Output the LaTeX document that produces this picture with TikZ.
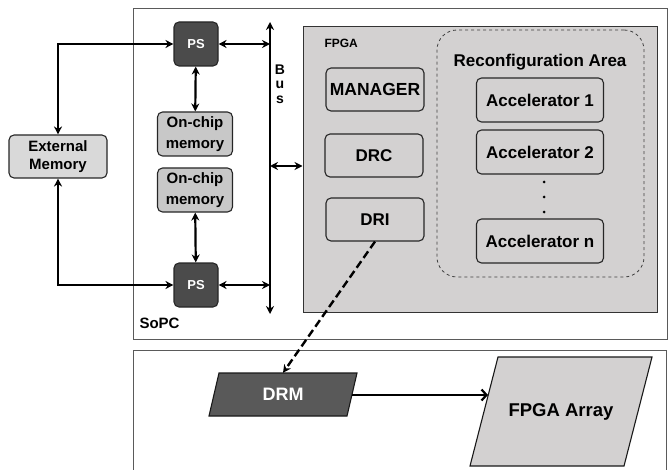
\documentclass[tikz,border=0pt]{standalone}
\usepackage{fontspec}
\setmainfont{Liberation Sans}
\usetikzlibrary{arrows.meta}
\definecolor{psgray}{HTML}{4B4B4B}
\definecolor{drmgray}{HTML}{595959}
\definecolor{memgray}{HTML}{C8C8C8}
\definecolor{extgray}{HTML}{D9D9D9}
\definecolor{fpgagray}{HTML}{D3D1D1}
\definecolor{framegray}{HTML}{5A5A5A}
\begin{document}
\begin{tikzpicture}[x=1pt,y=-1pt,
	fsz/.style={font=\fontsize{#1}{20}\selectfont\bfseries},
	blk/.style={draw=black!85,line width=1.1pt,rounded corners=5pt,align=center,inner sep=0pt},
	psbox/.style={blk,fill=psgray,text=white,minimum width=44pt,minimum height=44pt,fsz=13},
	membox/.style={blk,fill=memgray,minimum width=75pt,minimum height=44pt,font=\fontsize{15}{20.5}\selectfont\bfseries},
	extbox/.style={blk,fill=extgray,minimum width=98pt,minimum height=43pt,font=\fontsize{15}{18.5}\selectfont\bfseries},
	unitbox/.style={blk,fill=fpgagray,minimum width=98pt,minimum height=43pt,fsz=17},
	accbox/.style={blk,fill=fpgagray,minimum width=127pt,minimum height=44pt,fsz=17},
	para/.style={draw=black!90,line width=1.1pt},
	dbl/.style={{Stealth[length=8pt,width=8pt]}-{Stealth[length=8pt,width=8pt]},line width=2.2pt}
	]
	\useasboundingbox (0,0) rectangle (668,470);
	\node[draw=framegray,line width=1pt,minimum width=534pt,minimum height=330pt,inner sep=0pt] (sopc) at (400,174) {};
	\node[anchor=west,fsz=15] (sopclbl) at (136,323) {SoPC};
	\draw[framegray,line width=1pt] (133,471) |- (666,350) -- (666,471);

	\node[draw=black!80,line width=1pt,fill=fpgagray,minimum width=354pt,minimum height=285pt,inner sep=0pt] (fpga) at (480,169.5) {};
	\node[anchor=west,fsz=12] (fpgalbl) at (321,43) {FPGA};
	\node[draw=black!75,line width=0.8pt,dashed,rounded corners=20pt,minimum width=207pt,minimum height=247pt,inner sep=0pt] (reconf) at (540.5,153.5) {};
	\node[fsz=17] (reconflbl) at (540,62) {Reconfiguration Area};

	\node[unitbox,fsz=17.5] (mgr) at (375,89.5) {MANAGER};
	\node[unitbox] (drc) at (374,155.5) {DRC};
	\node[unitbox] (dri) at (375,219.5) {DRI};

	\node[accbox] (acc1) at (540,100) {Accelerator 1};
	\node[accbox] (acc2) at (540,152) {Accelerator 2};
	\node[accbox] (accn) at (540,241) {Accelerator n};
	\foreach \y in {182,197,212}
		\fill (544,\y) circle (1.5pt);

	\node[psbox] (ps1) at (196,44) {PS};
	\node[psbox] (ps2) at (196,285) {PS};
	\node[membox] (mem1) at (195,134) {On-chip\\memory};
	\node[membox] (mem2) at (195,190) {On-chip\\memory};
	\node[extbox] (ext) at (58,156.5) {External\\Memory};

	\coordinate (bustop) at (270,22);
	\coordinate (busbot) at (270,314);
	\draw[dbl] (bustop) -- (busbot);
	\node[align=center,font=\fontsize{14}{14.5}\selectfont\bfseries] (buslbl) at (280,84) {B\\u\\s};

	\draw[dbl] (ps1.east) -- (ps1.east -| bustop);
	\draw[dbl] (ps2.east) -- (ps2.east -| bustop);
	\draw[dbl] (ps1) -- (mem1);
	\draw[dbl] (mem2) -- (ps2);
	\draw[dbl] (ext.north) |- (ps1.west);
	\draw[dbl] (ext.south) |- (ps2.west);
	\draw[dbl] (fpga.west |- 0,166) -- (bustop |- 0,166);

	\draw[para,fill=drmgray] (219,373) -- (357,373) -- (347,416) -- (209,416) -- cycle;
	\node[text=white,minimum height=43pt,inner sep=0pt,fsz=18] (drm) at (283,394.5) {DRM};
	\draw[para,fill=fpgagray] (498,357) -- (652,357) -- (624,466) -- (470,466) -- cycle;
	\node[fsz=18.5] (arr) at (561,412) {FPGA Array};
	\coordinate (drmout) at (352,395);
	\coordinate (arrin) at (488,395);

	\draw[dash pattern=on 8pt off 4pt,line width=2.4pt,-{Stealth[length=8pt,width=8pt]}] (dri.south) -- (drm.north);
	\draw[line width=2.2pt,-{Straight Barb[length=5pt,width=11pt]}] (drmout) -- (arrin);
\end{tikzpicture}
\end{document}
